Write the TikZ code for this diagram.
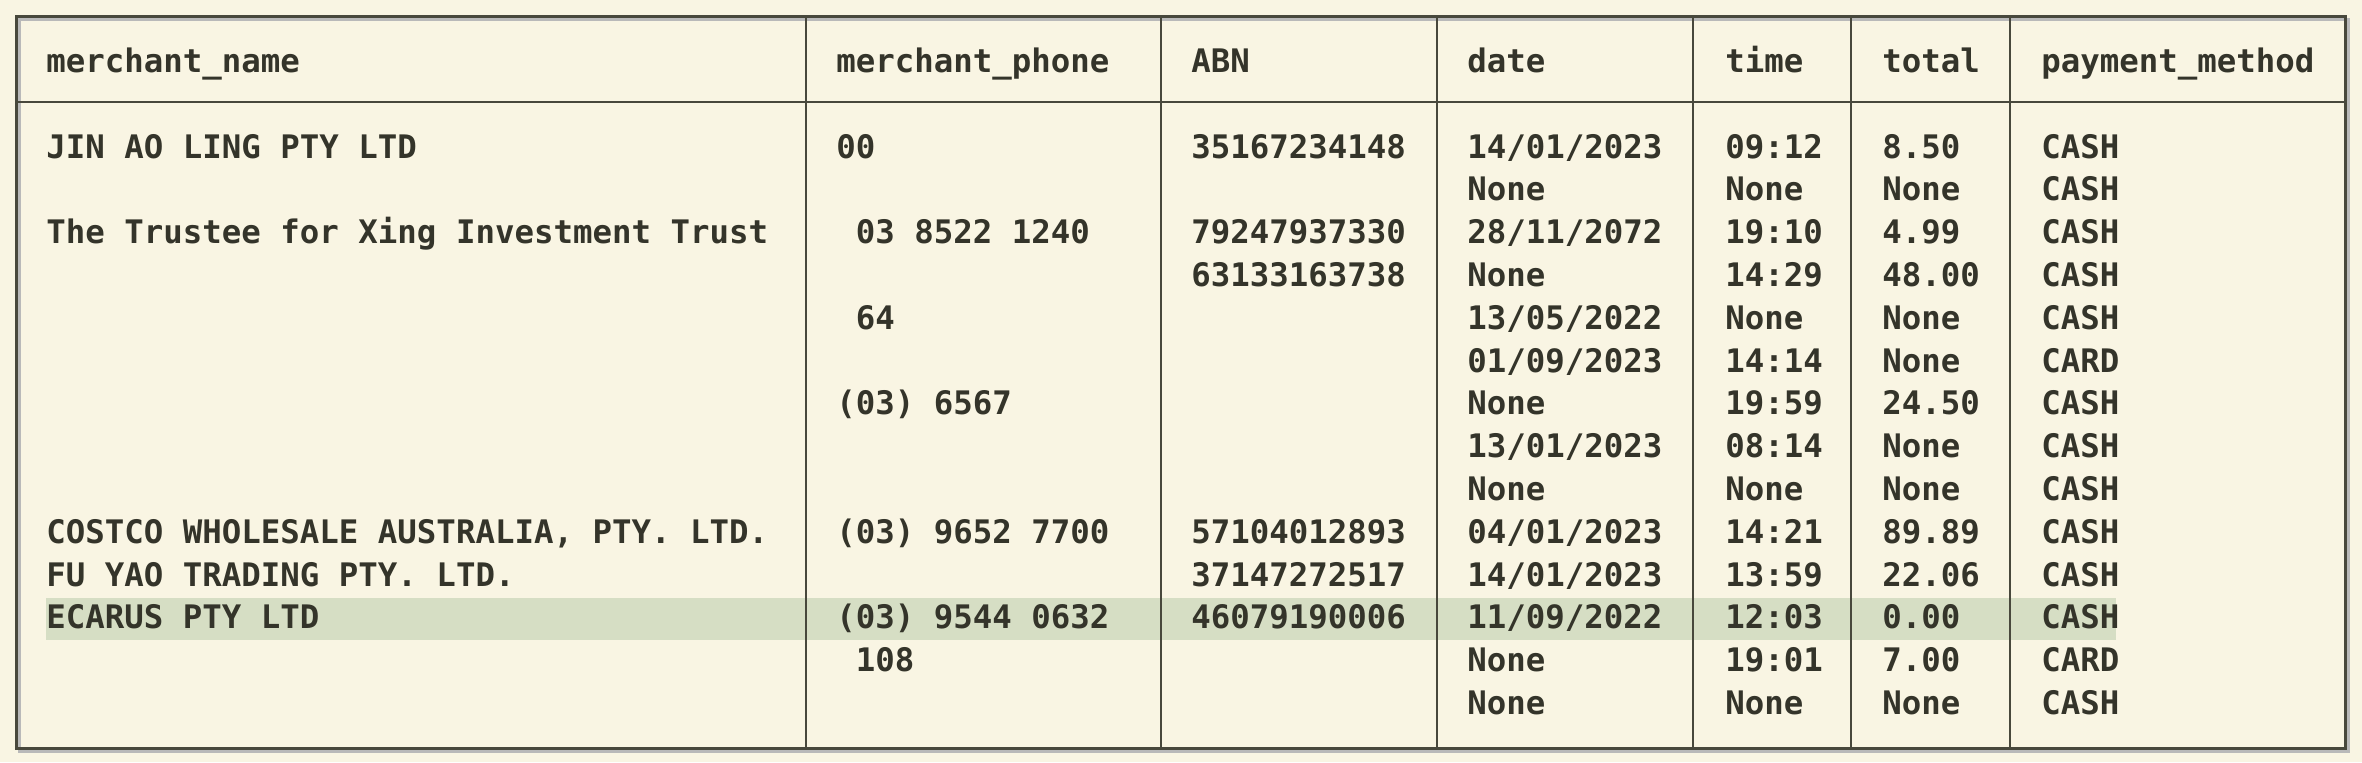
\documentclass[tikz,border=0pt]{standalone}
\usepackage{fontspec}
\setmonofont{DejaVu Sans Mono}
\definecolor{paper}{RGB}{249,245,227}
\definecolor{ink}{RGB}{52,52,42}
\definecolor{rule}{RGB}{72,72,60}
\definecolor{rowhl}{RGB}{214,222,196}

\begin{document}
\begin{tikzpicture}[x=0.5pt,y=-0.5pt]
		\tikzset{cell/.style = {anchor=base west, inner sep=0pt, text=ink,
				font=\fontsize{16.2}{20}\selectfont\ttfamily\bfseries}}
		\tikzset{frame/.style = {draw=rule, line width=1.5pt}}
		\tikzset{sep/.style = {draw=rule, line width=1pt}}
		
		\fill[paper] (0,0) rectangle (2362,762);
		\useasboundingbox (0,0) rectangle (2362,762);
		
		% highlighted row
		\fill[rowhl] (46,598) rectangle (2116,640);
		
		% frame and rules
		\draw[gray!55, line width=1.5pt] (19,19) rectangle (2348,751);
		\draw[frame] (16,16) rectangle (2345,748);
		\draw[sep] (16,102) -- (2345,102);
		\foreach \x in {806,1161,1437,1693,1851,2010}
			\draw[sep] (\x,16) -- (\x,748);
		
		% header
		\node[cell] (h1) at (  46, 72) {merchant\_name};
		\node[cell] (h2) at ( 836, 72) {merchant\_phone};
		\node[cell] (h3) at (1191, 72) {ABN};
		\node[cell] (h4) at (1467, 72) {date};
		\node[cell] (h5) at (1725, 72) {time};
		\node[cell] (h6) at (1882, 72) {total};
		\node[cell] (h7) at (2041, 72) {payment\_method};
		
		% merchant_name
		\foreach \r/\t in {1/JIN AO LING PTY LTD, 3/The Trustee for Xing Investment Trust,
				10/{COSTCO WHOLESALE AUSTRALIA, PTY. LTD.}, 11/FU YAO TRADING PTY. LTD.,
				12/ECARUS PTY LTD}
			\node[cell] (n\r) at (46,{158+(\r-1)*42.8}) {\t};
		
		% merchant_phone
		\foreach \r/\t in {1/00, 3/\ 03 8522 1240, 5/\ 64, 7/(03) 6567,
				10/(03) 9652 7700, 12/(03) 9544 0632, 13/\ 108}
			\node[cell] (p\r) at (836,{158+(\r-1)*42.8}) {\t};
		
		% ABN
		\foreach \r/\t in {1/35167234148, 3/79247937330, 4/63133163738,
				10/57104012893, 11/37147272517, 12/46079190006}
			\node[cell] (a\r) at (1191,{158+(\r-1)*42.8}) {\t};
		
		% date
		\foreach \r/\t in {1/14\slash 01\slash 2023, 2/None, 3/28\slash 11\slash 2072, 4/None,
				5/13\slash 05\slash 2022, 6/01\slash 09\slash 2023, 7/None, 8/13\slash 01\slash 2023,
				9/None, 10/04\slash 01\slash 2023, 11/14\slash 01\slash 2023, 12/11\slash 09\slash 2022,
				13/None, 14/None}
			\node[cell] (d\r) at (1467,{158+(\r-1)*42.8}) {\t};
		
		% time
		\foreach \r/\t in {1/09:12, 2/None, 3/19:10, 4/14:29, 5/None, 6/14:14, 7/19:59,
				8/08:14, 9/None, 10/14:21, 11/13:59, 12/12:03, 13/19:01, 14/None}
			\node[cell] (t\r) at (1725,{158+(\r-1)*42.8}) {\t};
		
		% total
		\foreach \r/\t in {1/8.50, 2/None, 3/4.99, 4/48.00, 5/None, 6/None, 7/24.50,
				8/None, 9/None, 10/89.89, 11/22.06, 12/0.00, 13/7.00, 14/None}
			\node[cell] (s\r) at (1882,{158+(\r-1)*42.8}) {\t};
		
		% payment_method
		\foreach \r/\t in {1/CASH, 2/CASH, 3/CASH, 4/CASH, 5/CASH, 6/CARD, 7/CASH,
				8/CASH, 9/CASH, 10/CASH, 11/CASH, 12/CASH, 13/CARD, 14/CASH}
			\node[cell] (m\r) at (2041,{158+(\r-1)*42.8}) {\t};
		\end{tikzpicture}
\end{document}
